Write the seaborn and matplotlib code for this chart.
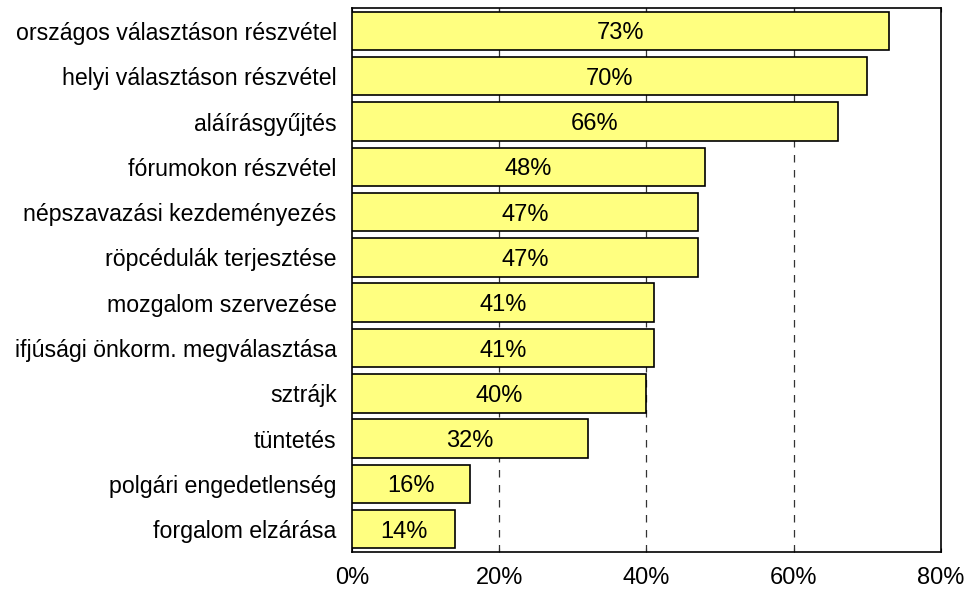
import pandas as pd
import matplotlib
matplotlib.use('Agg')
import matplotlib.pyplot as plt
import seaborn as sns

# Data
activities = ['országos választáson részvétel', 'helyi választáson részvétel', 'aláírásgyűjtés',
              'fórumokon részvétel', 'népszavazási kezdeményezés', 'röpcédulák terjesztése',
              'mozgalom szervezése', 'ifjúsági önkorm. megválasztása', 'sztrájk', 'tüntetés',
              'polgári engedetlenség', 'forgalom elzárása']
shares = [73, 70, 66, 48, 47, 47, 41, 41, 40, 32, 16, 14]
xticks = [0, 20, 40, 60, 80]

sns.set_style('white')
plt.rcParams['font.family'] = ['Liberation Sans', 'DejaVu Sans']
plt.rcParams['text.color'] = 'black'
plt.rcParams['xtick.color'] = 'black'
plt.rcParams['ytick.color'] = 'black'

df = pd.DataFrame({'activity': activities, 'share': shares})

fig, ax = plt.subplots(figsize=(9.67, 5.89), dpi=100)
fig.subplots_adjust(left=0.364, right=0.973, top=0.986, bottom=0.063)

sns.barplot(data=df, x='share', y='activity', orient='h', color='#FFFF80',
            edgecolor='black', linewidth=1.2, width=0.85, saturation=1, ax=ax, zorder=3)

for xv in xticks[1:-1]:
    ax.axvline(xv, color='#333333', linestyle=(0, (6, 6)), linewidth=0.9, zorder=1)

for i, v in enumerate(shares):
    ax.text(v / 2, i, f'{v}%', ha='center', va='center_baseline', fontsize=17,
            color='black', zorder=4)

ax.set_xlim(0, 80)
ax.set_xticks(xticks)
ax.set_xticklabels([f'{t}%' for t in xticks])
ax.set_xlabel('')
ax.set_ylabel('')
ax.tick_params(axis='x', labelsize=17, direction='in', length=3, top=True, bottom=True, pad=11)
ax.tick_params(axis='y', labelsize=16.7, length=0, pad=11)
for s in ax.spines.values():
    s.set_visible(True)
    s.set_color('black')
    s.set_linewidth(1.2)

fig.savefig('out.png', dpi=100)
